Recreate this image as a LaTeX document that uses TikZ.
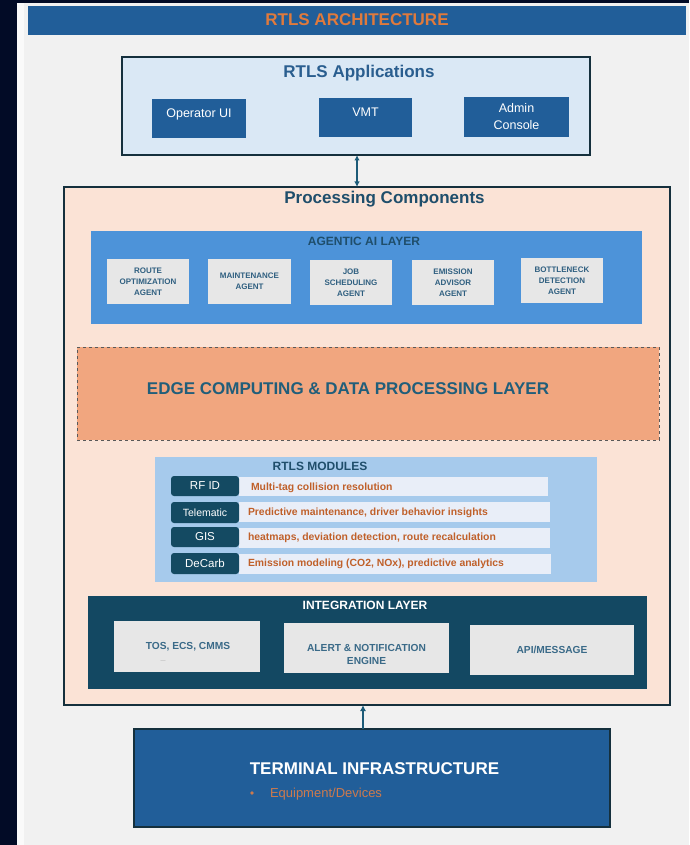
\documentclass[tikz,border=0pt]{standalone}
\usepackage{fontspec}
\setmainfont{Liberation Sans}
\usetikzlibrary{arrows.meta,calc}

\definecolor{navybg}{HTML}{020B26}
\definecolor{pagegray}{HTML}{F1F1F1}
\definecolor{stripwhite}{HTML}{FAFAFA}
\definecolor{barblue}{HTML}{215E99}
\definecolor{titleorange}{HTML}{E07A3C}
\definecolor{appsfill}{HTML}{DAE8F5}
\definecolor{frameline}{HTML}{15303D}
\definecolor{procfill}{HTML}{FBE3D6}
\definecolor{headteal}{HTML}{1F4E6B}
\definecolor{appsblue}{HTML}{2A5E8F}
\definecolor{agenticblue}{HTML}{4D93D9}
\definecolor{agentgray}{HTML}{E7E7E7}
\definecolor{agenttxt}{HTML}{2F5F80}
\definecolor{edgefill}{HTML}{F1A67F}
\definecolor{edgetxt}{HTML}{215E7A}
\definecolor{modfill}{HTML}{A6CAEC}
\definecolor{moddark}{HTML}{144A62}
\definecolor{descfill}{HTML}{E9EEF8}
\definecolor{descorange}{HTML}{C0602A}
\definecolor{integfill}{HTML}{134862}
\definecolor{integtxt}{HTML}{3A6A88}
\definecolor{arrowteal}{HTML}{1D5B78}
\definecolor{equiporange}{HTML}{CC7A4E}

\tikzset{
  panel/.style={inner sep=0pt, outer sep=0pt, anchor=north west},
  lbl/.style={inner sep=0pt, outer sep=0pt},
  appbtn/.style={panel, fill=barblue},
  appname/.style={lbl, text=white, font=\fontsize{12.5}{17}\selectfont, align=center},
  agentbox/.style={panel, fill=agentgray, text=agenttxt, align=center,
    font=\fontsize{8}{11}\selectfont\bfseries},
  modtag/.style={panel, fill=moddark, rounded corners=3pt, minimum width=68pt,
    text=white, font=\fontsize{11.5}{13}\selectfont},
  moddesc/.style={panel, fill=descfill},
  desctext/.style={lbl, anchor=base west, text=descorange,
    font=\fontsize{10.4}{12}\selectfont\bfseries},
  integbox/.style={panel, fill=agentgray},
  integtext/.style={lbl, text=integtxt, align=center,
    font=\fontsize{10.2}{13}\selectfont\bfseries},
  bigtitle/.style={lbl, font=\fontsize{17}{20}\selectfont\bfseries},
  midtitle/.style={lbl, font=\fontsize{12}{14}\selectfont\bfseries},
  link/.style={draw=arrowteal, line width=1.4pt}
}

\begin{document}
\begin{tikzpicture}[x=1pt,y=-1pt]
\useasboundingbox (0,0) rectangle (689,845);

% backdrop and page
\fill[navybg] (0,0) rectangle (689,845);
\fill[stripwhite] (17,3) rectangle (689,845);
\fill[pagegray] (24,3) rectangle (689,845);

% heading bar
\node[panel, fill=barblue, minimum width=658pt, minimum height=29pt] (titlebar) at (28,6) {};
\node[bigtitle, text=titleorange, anchor=base] (titletext) at (357,25.6) {RTLS ARCHITECTURE};

% applications
\node[panel, fill=appsfill, draw=frameline, line width=1.8pt,
      minimum width=468pt, minimum height=98pt] (apps) at (122,57) {};
\node[bigtitle, text=appsblue, anchor=base] (appstitle) at (359,78) {RTLS Applications};
\node[appbtn, minimum width=94pt, minimum height=39pt] (opui) at (152,99) {};
\node[appname, anchor=base] (opuitext) at (199,117.5) {Operator UI};
\node[appbtn, minimum width=93pt, minimum height=39pt] (vmt) at (319,98) {};
\node[appname, anchor=base] (vmttext) at (365.5,116.5) {VMT};
\node[appbtn, minimum width=105pt, minimum height=40pt] (admin) at (464,97) {};
\node[appname] (admintext) at (admin.center) {Admin\\Console};

% processing components
\node[panel, fill=procfill, draw=frameline, line width=1.8pt,
      minimum width=606pt, minimum height=518pt] (proc) at (64,187) {};
\node[bigtitle, text=headteal, anchor=base] (proctitle) at (384.5,204) {Processing Components};

% agentic AI layer
\node[panel, fill=agenticblue, minimum width=551pt, minimum height=93pt] (agentic) at (91,231) {};
\node[midtitle, text=headteal, anchor=base] (agentictitle) at (364,245.3) {AGENTIC AI LAYER};
\node[agentbox, minimum width=82pt, minimum height=45pt] (route) at (107,259) {ROUTE\\OPTIMIZATION\\AGENT};
\node[agentbox, minimum width=83pt, minimum height=45pt] (maint) at (208,259) {MAINTENANCE\\AGENT};
\node[agentbox, minimum width=82pt, minimum height=45pt] (job) at (310,260) {JOB\\SCHEDULING\\AGENT};
\node[agentbox, minimum width=82pt, minimum height=45pt] (emis) at (412,260) {EMISSION\\ADVISOR\\AGENT};
\node[agentbox, minimum width=82pt, minimum height=45pt] (bottle) at (521,258) {BOTTLENECK\\DETECTION\\AGENT};

% edge computing layer
\node[panel, fill=edgefill, draw=black!65, dashed, line width=0.7pt,
      minimum width=582pt, minimum height=93pt] (edge) at (77,347) {};
\node[bigtitle, text=edgetxt, anchor=base] (edgetitle) at (348,394)
  {EDGE COMPUTING \& DATA PROCESSING LAYER};

% RTLS modules
\node[panel, fill=modfill, minimum width=442pt, minimum height=125pt] (modules) at (155,457) {};
\node[midtitle, text=headteal, anchor=base] (modtitle) at (320,470.3) {RTLS MODULES};

\node[moddesc, minimum width=309pt, minimum height=19pt] (d1) at (239,476.5) {};
\node[moddesc, minimum width=311pt, minimum height=20pt] (d2) at (239,502) {};
\node[moddesc, minimum width=311pt, minimum height=20pt] (d3) at (239,527.5) {};
\node[moddesc, minimum width=312pt, minimum height=20pt] (d4) at (239,553.5) {};

\node[modtag, minimum height=20pt] (rfid) at (171,476) {RF ID};
\node[modtag, minimum height=21pt, font=\fontsize{10.5}{12}\selectfont] (tele) at (171,502) {Telematic};
\node[modtag, minimum height=20pt] (gis) at (171,527) {GIS};
\node[modtag, minimum height=21pt] (decarb) at (171,553) {DeCarb};

\node[desctext] (t1) at (251,490.3) {Multi-tag collision resolution};
\node[desctext] (t2) at (248,515.3) {Predictive maintenance, driver behavior insights};
\node[desctext] (t3) at (248,540.9) {heatmaps, deviation detection, route recalculation};
\node[desctext] (t4) at (248,566.9) {Emission modeling (CO2, NOx), predictive analytics};

% integration layer
\node[panel, fill=integfill, minimum width=559pt, minimum height=93pt] (integ) at (88,596) {};
\node[midtitle, text=white, anchor=base] (integtitle) at (365,609.3) {INTEGRATION LAYER};
\node[integbox, minimum width=146pt, minimum height=51pt] (tos) at (114,621) {};
\node[integtext] (tostext) at (188,646.5) {TOS, ECS, CMMS};
\node[lbl, text=black!35, font=\fontsize{5}{6}\selectfont] (tosmark) at (163,662) {---};
\node[integbox, minimum width=165pt, minimum height=50pt] (alert) at (284,623) {};
\node[integtext] (alerttext) at (366.5,654.5) {ALERT \& NOTIFICATION\\ENGINE};
\node[integbox, minimum width=164pt, minimum height=50pt] (api) at (470,625) {};
\node[integtext] (apitext) at (api.center) {API/MESSAGE};

% terminal infrastructure
\node[panel, fill=barblue, draw=frameline, line width=1.8pt,
      minimum width=476pt, minimum height=98pt] (term) at (134,729) {};
\node[bigtitle, text=white, anchor=base] (termtitle) at (374.5,774) {TERMINAL INFRASTRUCTURE};
\fill[equiporange] (252,793) circle (1.8pt);
\node[lbl, anchor=base west, text=equiporange, font=\fontsize{13}{15}\selectfont]
  (equip) at (270,797.7) {Equipment/Devices};

% connectors
\draw[link, {Latex[length=5.5pt,width=5.5pt]}-{Latex[length=5.5pt,width=5.5pt]}]
  ([xshift=1pt]apps.south) -- ([xshift=1pt]apps.south |- proc.north);
\coordinate (termup) at ($(term.north)+(-9,0)$);
\draw[link, -{Latex[length=6pt,width=6pt]}] (termup) -- (termup |- proc.south);

\end{tikzpicture}
\end{document}
